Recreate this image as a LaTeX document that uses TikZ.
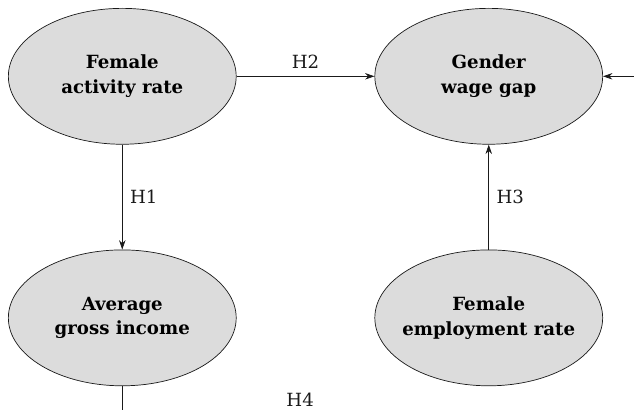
\documentclass[tikz,border=0pt]{standalone}
\usepackage{fontspec}
\setmainfont{DejaVu Serif}
\usepackage{xcolor}
\usepackage{tikz}
\usetikzlibrary{
    shapes.geometric,
    arrows.meta,
    positioning,
    calc
}
\definecolor{varfill}{HTML}{DCDCDC}
\definecolor{varline}{HTML}{1A1A1A}
\tikzset{
    % Latent variable ellipse
    varnode/.style={
        ellipse,
        draw=varline,
        fill=varfill,
        line width=0.6pt,
        minimum width=6.84cm,
        minimum height=4.08cm,
        inner xsep=-0.4cm,
        inner ysep=0pt,
        align=center,
        font=\fontsize{15.5}{21}\selectfont\bfseries
    },
    % Hypothesis arrow
    hyparrow/.style={
        -{Stealth[length=8pt,width=5.5pt]},
        line width=0.6pt,
        color=varline
    },
    % Hypothesis label
    hyplabel/.style={
        font=\fontsize{15.5}{18}\selectfont,
        text=varline
    }
}
\begin{document}
\begin{tikzpicture}

    % Variables
    \node[varnode] (activity) {Female\\activity rate};
    \node[varnode, right=4.14cm of activity] (wagegap) {Gender\\wage gap};
    \node[varnode, below=3.15cm of activity] (income) {Average\\gross income};
    \node[varnode, below=3.15cm of wagegap] (employment) {Female\\employment rate};

    % Free ends outside the frame
    \coordinate[right=0.93cm of wagegap.east] (ext-in);
    \coordinate[below=0.72cm of income.south] (ext-out);

    % Frame
    \useasboundingbox ($(activity.west |- activity.north)+(-0.24cm,0.24cm)$) rectangle (ext-in |- ext-out);

    % Hypotheses
    \draw[hyparrow] (activity) -- node[hyplabel, right=3pt] {H1} (income);
    \draw[hyparrow] (activity) -- node[hyplabel, above=3pt] {H2} (wagegap);
    \draw[hyparrow] (employment) -- node[hyplabel, right=3pt] {H3} (wagegap);
    \draw[hyparrow] (ext-in) -- (wagegap);
    \draw[line width=0.6pt, varline] (income) -- (ext-out);
    \node[hyplabel, below=0.08cm of income.south, xshift=5.34cm] (h4) {H4};

\end{tikzpicture}
\end{document}
